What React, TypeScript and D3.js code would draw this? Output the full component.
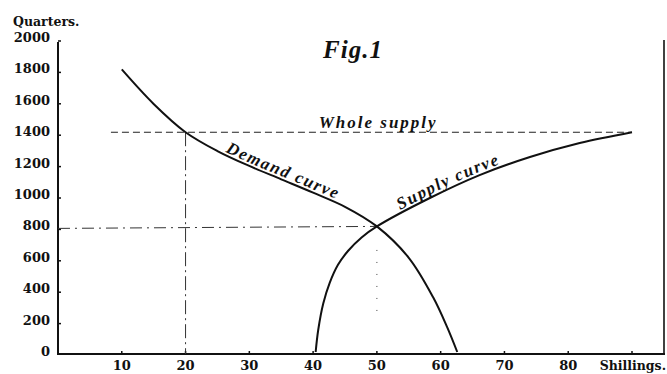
import React, { useEffect, useRef } from "react";
import * as d3 from "d3";

// values: [shillings, quarters]
const demandCurve: [number, number][] = [
  [10, 1800], [15, 1580], [20, 1400], [25, 1280], [30, 1185], [35, 1100],
  [40, 1015], [45, 925], [50, 800], [55, 600], [58.8, 350], [61, 160], [62.6, 0],
];
const supplyCurve: [number, number][] = [
  [40.4, 0], [40.8, 140], [41.6, 310], [42.6, 440], [43.9, 555], [45.5, 645],
  [47.6, 730], [50, 800], [58.3, 981], [66.1, 1127], [74, 1242], [81.8, 1331], [90, 1400],
];
const wholeSupply = 1400;
const wholeSupplyRange = [8.3, 90];
const equilibrium = { price: 50, quantity: 800 };
const supplyPrice = 20;
const xTicks = [10, 20, 30, 40, 50, 60, 70, 80, 90];
const xTickLabels = ["10", "20", "30", "40", "50", "60", "70", "80", ""];
const yTicks = [0, 200, 400, 600, 800, 1000, 1200, 1400, 1600, 1800, 2000];

const W = 667;
const H = 374;
const serif = "'DejaVu Serif', serif";
const italic = "'Liberation Serif', 'DejaVu Serif', serif";

export default function App() {
  const ref = useRef<SVGSVGElement>(null);

  useEffect(() => {
    const svg = d3.select(ref.current);
    svg.selectAll("*").remove();

    const x = d3.scaleLinear().domain([0, 90]).range([58, 632]);
    const y = d3.scaleLinear().domain([0, 2000]).range([352, 38]);
    const axisY = y(0) + 2;

    svg.append("rect").attr("width", W).attr("height", H).attr("fill", "#fff");

    // frame: y axis, x axis, right border
    const g = svg.append("g").attr("stroke", "#111").attr("fill", "none");
    g.append("line").attr("x1", 58).attr("x2", 58).attr("y1", 42).attr("y2", axisY).attr("stroke-width", 2);
    g.append("line").attr("x1", 57).attr("x2", 665).attr("y1", axisY).attr("y2", axisY).attr("stroke-width", 2);
    g.append("line").attr("x1", 664).attr("x2", 664).attr("y1", 40).attr("y2", axisY).attr("stroke-width", 1.6);

    // ticks
    g.selectAll(".xt")
      .data(xTicks)
      .join("line")
      .attr("x1", (d) => x(d))
      .attr("x2", (d) => x(d))
      .attr("y1", axisY)
      .attr("y2", axisY - 3)
      .attr("stroke-width", 1.5);
    g.selectAll(".yt")
      .data(yTicks.filter((d) => d > 0))
      .join("line")
      .attr("x1", 58)
      .attr("x2", 61)
      .attr("y1", (d) => y(d) + 3)
      .attr("y2", (d) => y(d) + 3)
      .attr("stroke-width", 1.5);

    // tick labels
    svg
      .selectAll(".yl")
      .data(yTicks)
      .join("text")
      .attr("x", 50)
      .attr("y", (d) => y(d) + 4)
      .attr("text-anchor", "end")
      .style("font-family", serif)
      .style("font-weight", "bold")
      .style("font-size", "13px")
      .attr("fill", "#111")
      .text((d) => d);
    svg
      .selectAll(".xl")
      .data(xTicks)
      .join("text")
      .attr("x", (d) => x(d))
      .attr("y", 370)
      .attr("text-anchor", "middle")
      .style("font-family", serif)
      .style("font-weight", "bold")
      .style("font-size", "13px")
      .attr("fill", "#111")
      .text((d, i) => xTickLabels[i]);

    svg.append("text").attr("x", 13).attr("y", 26)
      .style("font-family", serif).style("font-weight", "bold").style("font-size", "12.5px")
      .attr("fill", "#111").text("Quarters.");
    svg.append("text").attr("x", 666).attr("y", 370).attr("text-anchor", "end")
      .style("font-family", serif).style("font-weight", "bold").style("font-size", "12.5px")
      .attr("fill", "#111").text("Shillings.");

    svg.append("text").attr("x", 353).attr("y", 58).attr("text-anchor", "middle")
      .style("font-family", italic).style("font-weight", "bold").style("font-style", "italic")
      .style("font-size", "25px").style("letter-spacing", "1px")
      .attr("fill", "#111").text("Fig.1");

    // guide lines
    svg.append("line")
      .attr("x1", x(wholeSupplyRange[0])).attr("x2", x(wholeSupplyRange[1]))
      .attr("y1", y(wholeSupply)).attr("y2", y(wholeSupply))
      .attr("stroke", "#222").attr("stroke-width", 1.1).attr("stroke-dasharray", "7,4");
    svg.append("line")
      .attr("x1", x(0)).attr("x2", x(equilibrium.price))
      .attr("y1", y(equilibrium.quantity) + 2).attr("y2", y(equilibrium.quantity))
      .attr("stroke", "#333").attr("stroke-width", 1).attr("stroke-dasharray", "12,5,2,5");
    svg.append("line")
      .attr("x1", x(supplyPrice)).attr("x2", x(supplyPrice))
      .attr("y1", y(wholeSupply)).attr("y2", axisY)
      .attr("stroke", "#333").attr("stroke-width", 1).attr("stroke-dasharray", "14,4,2,4");
    svg.append("line")
      .attr("x1", x(equilibrium.price)).attr("x2", x(equilibrium.price))
      .attr("y1", y(650)).attr("y2", y(200))
      .attr("stroke", "#444").attr("stroke-width", 1).attr("stroke-dasharray", "1,11");

    // curves
    const line = d3
      .line<[number, number]>()
      .x((d) => x(d[0]))
      .y((d) => y(d[1]))
      .curve(d3.curveCatmullRom.alpha(0.5));

    const demandPath = svg.append("path").attr("id", "demand").attr("d", line(demandCurve))
      .attr("fill", "none").attr("stroke", "#111").attr("stroke-width", 2);
    const supplyPath = svg.append("path").attr("id", "supply").attr("d", line(supplyCurve))
      .attr("fill", "none").attr("stroke", "#111").attr("stroke-width", 2);

    const offsetAt = (node: SVGPathElement, px: number) => {
      const len = node.getTotalLength();
      for (let l = 0; l < len; l += 1) {
        if (node.getPointAtLength(l).x >= px) return l;
      }
      return 0;
    };

    const curveLabel = (id: string, offset: number, label: string) => {
      svg.append("text")
        .attr("dy", -3)
        .style("font-family", italic).style("font-weight", "bold").style("font-style", "italic")
        .style("font-size", "17px").style("letter-spacing", "1.6px").attr("fill", "#111")
        .append("textPath")
        .attr("href", `#${id}`)
        .attr("startOffset", offset)
        .text(label);
    };
    curveLabel("demand", offsetAt(demandPath.node() as SVGPathElement, x(26)), "Demand curve");
    curveLabel("supply", offsetAt(supplyPath.node() as SVGPathElement, x(53.8)), "Supply curve");

    svg.append("text").attr("x", x(50.2)).attr("y", y(wholeSupply) - 4).attr("text-anchor", "middle")
      .style("font-family", italic).style("font-weight", "bold").style("font-style", "italic")
      .style("font-size", "17px").style("letter-spacing", "2px")
      .attr("fill", "#111").text("Whole supply");
  }, []);

  return (
    <svg
      ref={ref}
      width={W}
      height={H}
      style={{ position: "absolute", left: 0, top: 0, display: "block" }}
    />
  );
}
